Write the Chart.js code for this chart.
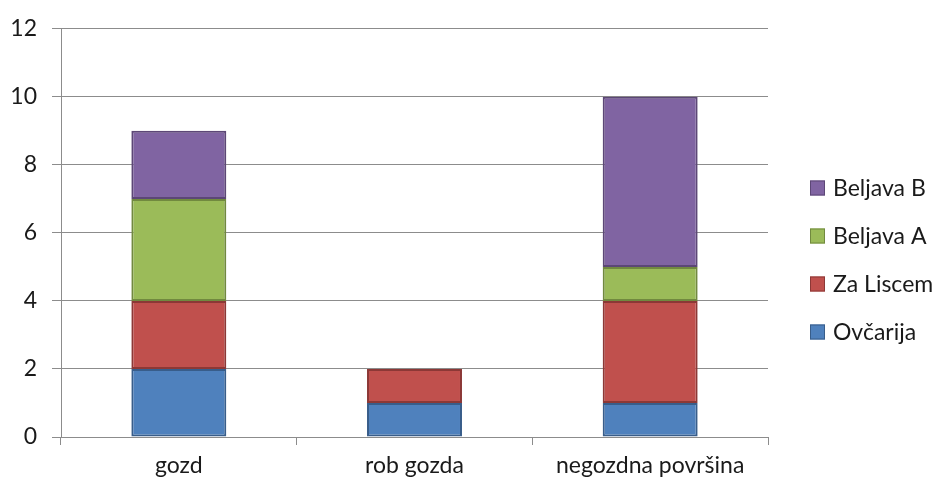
<!DOCTYPE html>
<html>
<head>
<meta charset="utf-8">
<script src="https://cdn.jsdelivr.net/npm/chart.js@4.4.1/dist/chart.umd.min.js"></script>
<style>
  html, body { margin: 0; padding: 0; background: #fff; }
  #wrap { width: 938px; height: 492px; position: relative; }
</style>
</head>
<body>
<div id="wrap"><canvas id="c" width="938" height="492"></canvas></div>
<script>
// Number of records per habitat type and site
const categories = ['gozd', 'rob gozda', 'negozdna površina'];
const ovcarija = [2, 1, 1];
const zaLiscem = [2, 1, 3];
const beljavaA = [3, 0, 1];
const beljavaB = [2, 0, 5];
const yTicks = [0, 2, 4, 6, 8, 10, 12];

const FONT = 'Lato, "Open Sans", sans-serif';
const GRID = '#8c8c8c';
const TEXT = '#1a1a1a';

// Legend drawn on the right, last series first
const sideLegend = {
  id: 'sideLegend',
  afterDraw(chart) {
    const ctx = chart.ctx;
    const sets = chart.data.datasets.slice().reverse();
    const x0 = 810, y0 = 188, step = 48, box = 15;
    ctx.save();
    ctx.font = '23px ' + FONT;
    ctx.textBaseline = 'middle';
    ctx.textAlign = 'left';
    sets.forEach((ds, i) => {
      const y = y0 + i * step;
      ctx.fillStyle = ds.backgroundColor;
      ctx.fillRect(x0, y - box / 2, box, box);
      ctx.strokeStyle = ds.borderColor;
      ctx.lineWidth = 1;
      ctx.strokeRect(x0 + 0.5, y - box / 2 + 0.5, box - 1, box - 1);
      ctx.fillStyle = TEXT;
      ctx.fillText(ds.label, x0 + 23, y + 1);
    });
    ctx.restore();
  }
};

new Chart(document.getElementById('c'), {
  type: 'bar',
  data: {
    labels: categories,
    datasets: [
      { label: 'Ovčarija',  data: ovcarija, backgroundColor: '#4F81BD', borderColor: '#385D8A' },
      { label: 'Za Liscem', data: zaLiscem, backgroundColor: '#C0504D', borderColor: '#8C3836' },
      { label: 'Beljava A', data: beljavaA, backgroundColor: '#9BBB59', borderColor: '#71893F' },
      { label: 'Beljava B', data: beljavaB, backgroundColor: '#8064A2', borderColor: '#5C4776' }
    ]
  },
  options: {
    responsive: false,
    animation: false,
    devicePixelRatio: 1,
    layout: { padding: { left: 0, top: 25, right: 170, bottom: 0 } },
    datasets: {
      bar: { borderWidth: 2, borderSkipped: false, categoryPercentage: 1, barPercentage: 0.403 }
    },
    plugins: {
      legend: { display: false },
      tooltip: { enabled: false }
    },
    scales: {
      x: {
        stacked: true,
        grid: { offset: true, drawOnChartArea: false, drawTicks: true, tickLength: 8, color: GRID },
        border: { color: GRID },
        ticks: { font: { family: FONT, size: 23 }, color: TEXT, padding: 7, maxRotation: 0 },
        afterFit(s) { s.height = 55; }
      },
      y: {
        stacked: true,
        min: 0,
        max: 12,
        afterBuildTicks(s) { s.ticks = yTicks.map(v => ({ value: v })); },
        grid: { color: GRID, tickLength: 9, drawTicks: true },
        border: { color: GRID },
        ticks: { font: { family: FONT, size: 23 }, color: TEXT, padding: 15 },
        afterFit(s) { s.width = 61; }
      }
    }
  },
  plugins: [sideLegend]
});
</script>
</body>
</html>
